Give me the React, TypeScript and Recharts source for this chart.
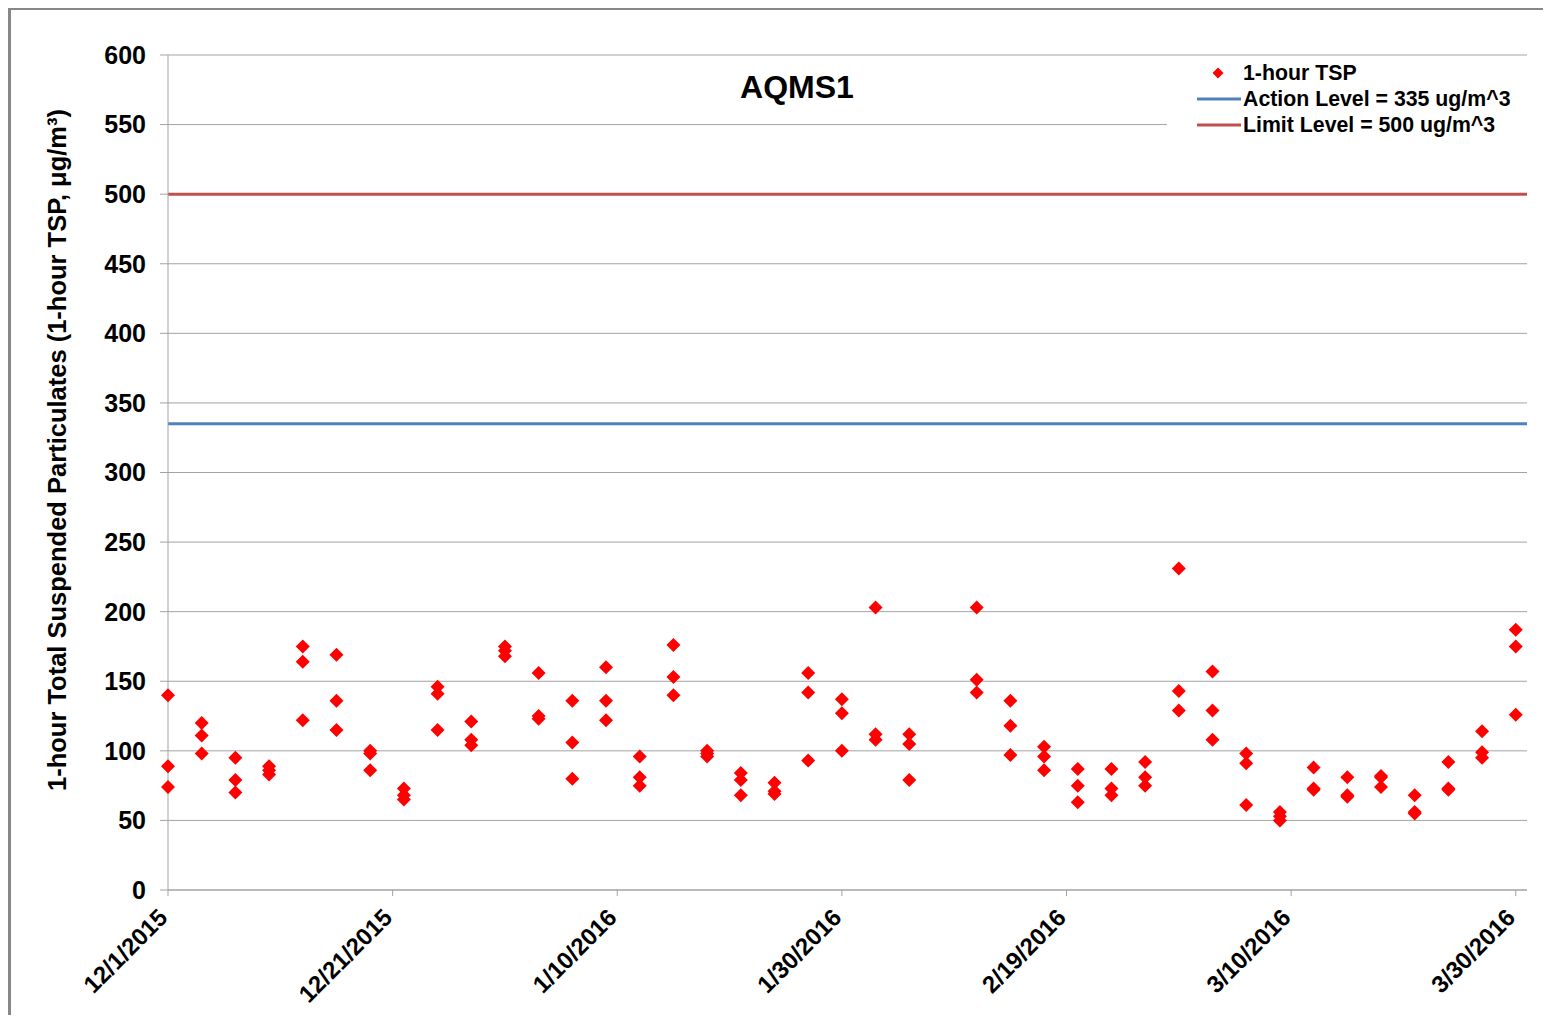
import React from "react";
import {
  CartesianGrid,
  ReferenceLine,
  Scatter,
  ScatterChart,
  XAxis,
  YAxis
} from "recharts";

// sampling dates, three 1-hour readings per date (high / middle / low)
const sampleDates = [
  "12/1/2015", "12/4/2015", "12/7/2015", "12/10/2015", "12/13/2015",
  "12/16/2015", "12/19/2015", "12/22/2015", "12/25/2015", "12/28/2015",
  "12/31/2015", "1/3/2016", "1/6/2016", "1/9/2016", "1/12/2016",
  "1/15/2016", "1/18/2016", "1/21/2016", "1/24/2016", "1/27/2016",
  "1/30/2016", "2/2/2016", "2/5/2016", "2/11/2016", "2/14/2016",
  "2/17/2016", "2/20/2016", "2/23/2016", "2/26/2016", "2/29/2016",
  "3/3/2016", "3/6/2016", "3/9/2016", "3/12/2016", "3/15/2016",
  "3/18/2016", "3/21/2016", "3/24/2016", "3/27/2016", "3/30/2016"
];

const tspHigh = [
  140, 120, 95, 89, 175, 169, 100, 73, 146, 121,
  175, 156, 136, 160, 96, 176, 100, 84, 77, 156,
  137, 203, 112, 203, 136, 103, 87, 87, 92, 231,
  157, 98, 56, 88, 81, 82, 68, 92, 114, 187
];

const tspMid = [
  89, 111, 79, 86, 164, 136, 98, 68, 141, 108,
  172, 125, 106, 136, 81, 153, 98, 79, 71, 142,
  127, 112, 105, 151, 118, 96, 75, 73, 81, 143,
  129, 91, 53, 73, 68, 81, 56, 73, 99, 175
];

const tspLow = [
  74, 98, 70, 83, 122, 115, 86, 65, 115, 104,
  168, 123, 80, 122, 75, 140, 96, 68, 69, 93,
  100, 108, 79, 142, 97, 86, 63, 68, 75, 129,
  108, 61, 50, 72, 67, 74, 55, 72, 95, 126
];

const dateTicks = [
  "12/1/2015", "12/21/2015", "1/10/2016", "1/30/2016",
  "2/19/2016", "3/10/2016", "3/30/2016"
];

const valueTicks = [0, 50, 100, 150, 200, 250, 300, 350, 400, 450, 500, 550, 600];

const actionLevel = 335;
const limitLevel = 500;

const FONT = "'Liberation Sans', Arial, Helvetica, sans-serif";
const GRID = "#a3a3a3";

const toDay = (label: string) => {
  const [m, d, y] = label.split("/").map(Number);
  const [m0, d0, y0] = sampleDates[0].split("/").map(Number);
  return Math.round((Date.UTC(y, m - 1, d) - Date.UTC(y0, m0 - 1, d0)) / 86400000);
};

const tickDays = dateTicks.map(toDay);
const tickLabel = (day: number) => dateTicks[tickDays.indexOf(day)] ?? "";

const points = sampleDates.flatMap((date, i) =>
  [tspHigh[i], tspMid[i], tspLow[i]].map((tsp) => ({ day: toDay(date), tsp }))
);

function Diamond(props: any) {
  const { cx, cy } = props;
  const r = 7;
  return (
    <polygon
      points={`${cx},${cy - r} ${cx + r},${cy} ${cx},${cy + r} ${cx - r},${cy}`}
      fill="#ff0000"
    />
  );
}

function DateTick(props: any) {
  const { x, y, payload } = props;
  const tx = x + 1;
  const ty = y + 21;
  return (
    <text
      x={tx}
      y={ty}
      transform={`rotate(-45 ${tx} ${ty})`}
      textAnchor="end"
      fontFamily={FONT}
      fontWeight="bold"
      fontSize={24}
      fill="#000"
    >
      {tickLabel(payload.value)}
    </text>
  );
}

function YTitle() {
  const x = 58;
  const y = 442;
  return (
    <text
      x={x}
      y={y}
      transform={`rotate(-90 ${x} ${y})`}
      textAnchor="middle"
      fontFamily={FONT}
      fontWeight="bold"
      fontSize={25.5}
      fill="#000"
    >
      1-hour Total Suspended Particulates (1-hour TSP, μg/m³)
    </text>
  );
}

function LegendBox() {
  const rows = [
    { label: "1-hour TSP", y: 13 },
    { label: "Action Level = 335 ug/m^3", y: 39 },
    { label: "Limit Level = 500 ug/m^3", y: 65 }
  ];
  return (
    <svg width={365} height={82}>
      <polygon points="51,7.5 56.5,13 51,18.5 45.5,13" fill="#ff0000" />
      <line x1={30} x2={74} y1={39} y2={39} stroke="#4f81bd" strokeWidth={3} />
      <line x1={30} x2={74} y1={65} y2={65} stroke="#c0504d" strokeWidth={3} />
      {rows.map((row) => (
        <text
          key={row.label}
          x={76}
          y={row.y}
          dominantBaseline="central"
          fontFamily={FONT}
          fontWeight="bold"
          fontSize={21.3}
          fill="#000"
        >
          {row.label}
        </text>
      ))}
    </svg>
  );
}

export default function App() {
  return (
    <div style={{ position: "relative", width: 1535, height: 1007, background: "#fff" }}>
      <ScatterChart
        width={1535}
        height={1007}
        margin={{ top: 47, right: 16, bottom: 5, left: 0 }}
      >
        <CartesianGrid vertical={false} stroke={GRID} />
        <XAxis
          type="number"
          dataKey="day"
          domain={[0, 121]}
          ticks={tickDays}
          interval={0}
          height={120}
          tickSize={6}
          stroke={GRID}
          tick={<DateTick />}
        />
        <YAxis
          type="number"
          dataKey="tsp"
          domain={[0, 600]}
          ticks={valueTicks}
          interval={0}
          width={160}
          tickSize={8}
          tickMargin={14}
          stroke={GRID}
          tick={{ fill: "#000", fontSize: 25, fontWeight: "bold", fontFamily: FONT }}
          label={<YTitle />}
        />
        <ReferenceLine y={limitLevel} stroke="#c0504d" strokeWidth={3} />
        <ReferenceLine y={actionLevel} stroke="#4f81bd" strokeWidth={3} />
        <Scatter
          name="1-hour TSP"
          data={points}
          shape={<Diamond />}
          isAnimationActive={false}
        />
      </ScatterChart>

      <div
        style={{
          position: "absolute",
          left: 0,
          top: -1,
          width: 1535,
          height: 1008,
          boxSizing: "border-box",
          borderTop: "3px solid #878787",
          borderLeft: "3px solid #878787",
          pointerEvents: "none"
        }}
      />
      <div
        style={{
          position: "absolute",
          left: 689,
          top: 61,
          width: 200,
          textAlign: "center",
          fontFamily: FONT,
          fontWeight: "bold",
          fontSize: 32,
          lineHeight: "37px"
        }}
      >
        AQMS1
      </div>
      <div
        style={{
          position: "absolute",
          left: 1159,
          top: 52,
          width: 365,
          height: 82,
          background: "#fff"
        }}
      >
        <LegendBox />
      </div>
    </div>
  );
}
